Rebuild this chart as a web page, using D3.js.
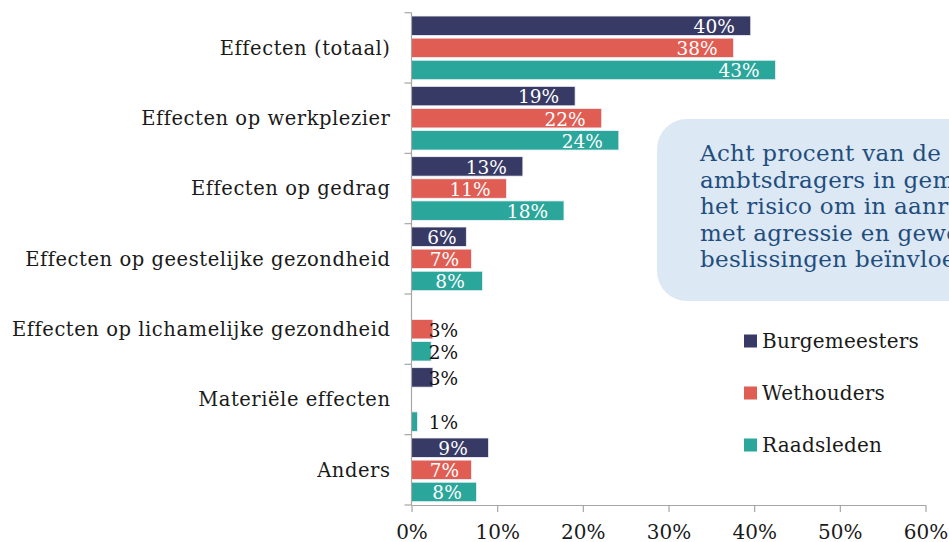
<!DOCTYPE html>
<html>
<head>
<meta charset="utf-8">
<script src="https://cdn.jsdelivr.net/npm/d3@7"></script>
<style>
  html, body { margin: 0; padding: 0; background: #fff; overflow: hidden; }
  svg { display: block; }
</style>
</head>
<body>
<svg id="chart" width="949" height="542"></svg>
<script>
// ---- data ----
const categories = [
  "Effecten (totaal)",
  "Effecten op werkplezier",
  "Effecten op gedrag",
  "Effecten op geestelijke gezondheid",
  "Effecten op lichamelijke gezondheid",
  "Materiële effecten",
  "Anders"
];
const seriesNames = ["Burgemeesters", "Wethouders", "Raadsleden"];
const burgemeesters = [39.6, 19.1, 13.0, 6.4, null, 2.5, 9.0];
const wethouders    = [37.6, 22.2, 11.1, 7.0, 2.5, null, 7.0];
const raadsleden    = [42.5, 24.2, 17.8, 8.3, 2.3, 0.7, 7.6];
const seriesValues = [burgemeesters, wethouders, raadsleden];
const seriesColors = ["#383a66", "#e05d53", "#2ba69b"];
const xTicks = [0, 10, 20, 30, 40, 50, 60];
const calloutLines = [
  "Acht procent van de politieke",
  "ambtsdragers in gemeenten ziet",
  "het risico om in aanraking te",
  "met agressie en geweld als",
  "beslissingen beïnvloeden"
];

const FONT = "'DejaVu Serif', serif";
const svg = d3.select("#chart");

const x = d3.scaleLinear().domain([0, 60]).range([411.5, 925.5]);
const y = d3.scaleBand().domain(categories).range([12.7, 505]).padding(0);
const ySub = d3.scaleBand().domain(seriesNames).range([0, y.bandwidth()])
  .paddingInner(0.12).paddingOuter(0.15);

// callout box (behind)
const callout = svg.append("g");
callout.append("rect")
  .attr("x", 657).attr("y", 119).attr("width", 340).attr("height", 182)
  .attr("rx", 30).attr("ry", 30)
  .attr("fill", "#dde8f5");
callout.selectAll("text").data(calloutLines).join("text")
  .attr("x", 700)
  .attr("y", (d, i) => 161 + i * 26.6)
  .attr("font-family", FONT)
  .attr("font-size", 23)
  .attr("letter-spacing", 0.3)
  .attr("fill", "#1f4e7d")
  .text(d => d);

// bars
const rows = [];
categories.forEach((c, ci) => {
  seriesNames.forEach((s, si) => {
    const v = seriesValues[si][ci];
    if (v !== null && v !== undefined) rows.push({ c, s, si, v });
  });
});

const g = svg.append("g");
g.selectAll("rect.bar").data(rows).join("rect")
  .attr("class", "bar")
  .attr("x", x(0))
  .attr("y", d => y(d.c) + ySub(d.s))
  .attr("width", d => x(d.v) - x(0))
  .attr("height", ySub.bandwidth())
  .attr("fill", d => seriesColors[d.si])
  .attr("stroke", "#f2f2f8")
  .attr("stroke-width", 0.8);

// labels
g.selectAll("text.lbl").data(rows).join("text")
  .attr("class", "lbl")
  .attr("font-family", FONT)
  .attr("font-size", 18.5)
  .attr("y", d => y(d.c) + ySub(d.s) + ySub.bandwidth() / 2)
  .attr("dy", "0.4em")
  .attr("x", d => {
    if (d.v < 5) return x(2);
    if (d.v < 10) return (x(0) + x(d.v)) / 2 + 3;
    return x(d.v) - 16;
  })
  .attr("text-anchor", d => d.v < 5 ? "start" : (d.v < 10 ? "middle" : "end"))
  .attr("fill", d => d.v < 5 ? "#111" : "#fff")
  .text(d => Math.round(d.v) + "%");

// y axis
const yG = svg.append("g").attr("transform", `translate(${x(0)},0)`);
yG.append("line")
  .attr("x1", 0).attr("x2", 0).attr("y1", y.range()[0]).attr("y2", y.range()[1])
  .attr("stroke", "#a6a6a6").attr("stroke-width", 1.2);
// boundary ticks
const bounds = categories.map(c => y(c)).concat([y.range()[1]]);
yG.selectAll("line.bt").data(bounds).join("line")
  .attr("class", "bt")
  .attr("x1", -7).attr("x2", 0).attr("y1", d => d).attr("y2", d => d)
  .attr("stroke", "#a6a6a6").attr("stroke-width", 1.2);
// category labels
yG.selectAll("text.cat").data(categories).join("text")
  .attr("class", "cat")
  .attr("x", -21)
  .attr("y", d => y(d) + y.bandwidth() / 2)
  .attr("dy", "0.35em")
  .attr("text-anchor", "end")
  .attr("font-family", FONT)
  .attr("font-size", 19.5)
  .attr("letter-spacing", 0.55)
  .attr("fill", "#1a1a1a")
  .text(d => d);

// x axis
const xAxis = d3.axisBottom(x).tickValues(xTicks).tickFormat(d => d + "%")
  .tickSize(7).tickPadding(13).tickSizeOuter(0);
const xG = svg.append("g").attr("transform", `translate(0,${y.range()[1]})`).call(xAxis);
xG.select(".domain").attr("stroke", "#a6a6a6").attr("stroke-width", 1.2);
xG.selectAll(".tick line").attr("stroke", "#a6a6a6").attr("stroke-width", 1.2);
xG.selectAll(".tick text")
  .attr("font-family", FONT).attr("font-size", 20).attr("fill", "#1a1a1a");

// legend
const leg = svg.append("g");
const legY = [341, 393, 445];
seriesNames.forEach((s, i) => {
  leg.append("rect")
    .attr("x", 744).attr("y", legY[i] - 6.5).attr("width", 13).attr("height", 13)
    .attr("fill", seriesColors[i]);
  leg.append("text")
    .attr("x", 762).attr("y", legY[i]).attr("dy", "0.35em")
    .attr("font-family", FONT).attr("font-size", 20)
    .attr("letter-spacing", 0.2)
    .attr("fill", "#1a1a1a")
    .text(s);
});
</script>
</body>
</html>
